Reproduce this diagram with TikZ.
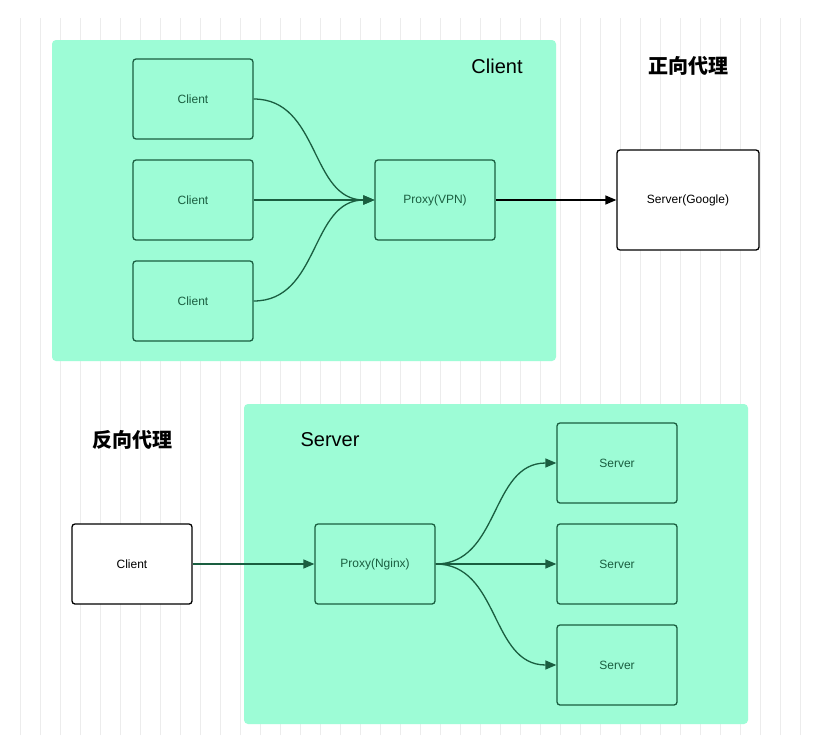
\documentclass[tikz,border=0pt]{standalone}
\usepackage{fontspec}
\setmainfont{Liberation Sans}
\newfontfamily\cjk{Noto Sans CJK SC}
\usetikzlibrary{arrows.meta}
\definecolor{mint}{RGB}{157,252,214}
\definecolor{dg}{RGB}{26,94,64}
\definecolor{gridc}{RGB}{236,236,236}
\begin{document}
\begin{tikzpicture}[x=1pt,y=-1pt,
  box/.style={draw=dg,line width=1.3pt,rounded corners=3pt,fill=mint,minimum width=120pt,minimum height=80pt,inner sep=0pt,text=dg,font=\fontsize{12}{14}\selectfont},
  wbox/.style={draw=black,line width=1.3pt,rounded corners=3pt,fill=white,minimum width=120pt,minimum height=80pt,inner sep=0pt,font=\fontsize{12}{14}\selectfont},
  arr/.style={draw=dg,line width=1.3pt,-{Triangle[length=11pt,width=9pt]}},
  panel/.style={fill=mint,rounded corners=4pt},
  title/.style={font=\fontsize{20}{24}\selectfont}]
\useasboundingbox (0,0) rectangle (832,750);
\fill[white] (0,0) rectangle (832,750);
\draw[gridc,line width=0.6pt,step=20] (12,18) grid (815,735);
\fill[panel] (52,40) rectangle (556,361);
\fill[panel] (244,404) rectangle (748,724);
\node[title] (t1) at (497,66) {Client};
\node[title,font=\cjk\fontsize{20}{24}\selectfont\bfseries] (t2) at (688,66) {正向代理};
\node[title] (t3) at (330,440) {Server};
\node[title,font=\cjk\fontsize{20}{24}\selectfont\bfseries] (t4) at (132,440) {反向代理};
\node[box] (c1) at (193,99) {Client};
\node[box] (c2) at (193,200) {Client};
\node[box] (c3) at (193,301) {Client};
\node[box] (p1) at (435,200) {Proxy(VPN)};
\node[wbox,minimum width=142pt,minimum height=100pt] (g) at (688,200) {Server(Google)};
\draw[arr] (c1.east) .. controls (320,99) and (310,200) .. (p1.west);
\draw[arr] (c2.east) -- (p1.west);
\draw[arr] (c3.east) .. controls (320,301) and (310,200) .. (p1.west);
\draw[line width=1.3pt,-{Triangle[length=11pt,width=9pt]}] (p1.east) -- (g.west);
\node[wbox] (cl) at (132,564) {Client};
\node[box] (p2) at (375,564) {Proxy(Nginx)};
\node[box] (s1) at (617,463) {Server};
\node[box] (s2) at (617,564) {Server};
\node[box] (s3) at (617,665) {Server};
\draw[arr] (cl.east) -- (p2.west);
\draw[arr] (p2.east) .. controls (500,564) and (490,463) .. (s1.west);
\draw[arr] (p2.east) -- (s2.west);
\draw[arr] (p2.east) .. controls (500,564) and (490,665) .. (s3.west);
\end{tikzpicture}
\end{document}
